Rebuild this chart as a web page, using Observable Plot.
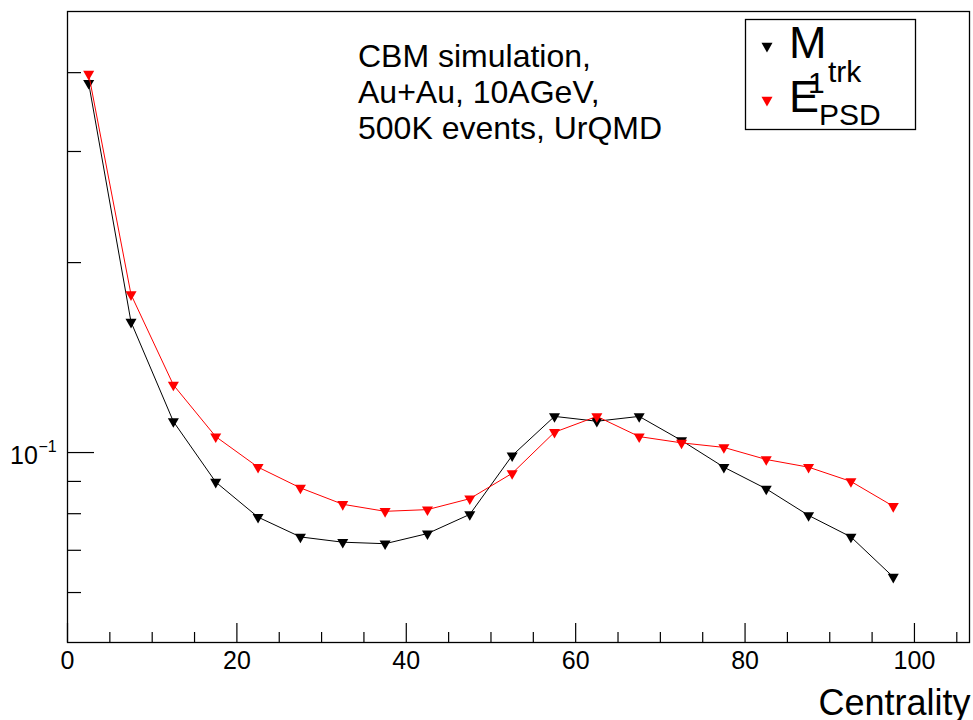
<!DOCTYPE html>
<html><head><meta charset="utf-8">
<script src="https://cdn.jsdelivr.net/npm/d3@7"></script>
<script src="https://cdn.jsdelivr.net/npm/@observablehq/plot@0.6"></script>
<style>
body{margin:0;background:#fff;}
#wrap{width:973px;height:720px;}
</style></head><body><div id="wrap"></div>
<script>
const centrality = [2.5,7.5,12.5,17.5,22.5,27.5,32.5,37.5,42.5,47.5,52.5,57.5,62.5,67.5,72.5,77.5,82.5,87.5,92.5,97.5];
const mTrk = [0.385,0.161,0.112,0.0898,0.0790,0.0735,0.0721,0.0717,0.0744,0.0798,0.0989,0.1141,0.1121,0.1141,0.1045,0.0948,0.0876,0.0795,0.0735,0.0635];
const ePsd = [0.398,0.178,0.128,0.106,0.0948,0.0879,0.0828,0.0807,0.0812,0.0845,0.0927,0.1077,0.1141,0.1060,0.1036,0.1019,0.0975,0.0948,0.0900,0.0822];
const xMajor = [0,20,40,60,80,100];
const xMinor = [5,10,15,25,30,35,45,50,55,65,70,75,85,90,95,105];
const yMajor = [0.1];
const yMinor = [0.06,0.07,0.08,0.09,0.2,0.3,0.4];
const seriesNames = ["M", "E"];
const seriesColors = ["#000000", "#ff0000"];
const noteLines = ["CBM simulation,", "Au+Au, 10AGeV,", "500K events, UrQMD"];

const rowsM = centrality.map((c, i) => ({c, v: mTrk[i]}));
const rowsE = centrality.map((c, i) => ({c, v: ePsd[i]}));

const W = 973, H = 720, mL = 67, mR = 4, mT = 11, mB = 78;
const fw = W - mL - mR, fh = H - mT - mB;
const font = "Liberation Sans, Arial, Helvetica, sans-serif";
const markR = 4.1;

const chart = Plot.plot({
  width: W, height: H,
  marginLeft: mL, marginRight: mR, marginTop: mT, marginBottom: mB,
  x: {domain: [0, 106.5], axis: null},
  y: {type: "log", domain: [0.05, 0.5], axis: null},
  style: {fontFamily: font, background: "white", color: "black", overflow: "visible"},
  marks: [
    Plot.ruleX(xMajor, {x: d => d, insetTop: fh - 19, stroke: "black", strokeWidth: 1.2}),
    Plot.ruleX(xMinor, {x: d => d, insetTop: fh - 10, stroke: "black", strokeWidth: 1.2}),
    Plot.ruleY(yMajor, {y: d => d, insetRight: fw - 27, stroke: "black", strokeWidth: 1.2}),
    Plot.ruleY(yMinor, {y: d => d, insetRight: fw - 14, stroke: "black", strokeWidth: 1.2}),
    Plot.text(xMajor, {x: d => d, text: d => String(d), frameAnchor: "bottom", lineAnchor: "top", dy: 9, fontSize: 25, fill: "black"}),
    Plot.text(["Centrality"], {text: d => d, frameAnchor: "bottom-right", textAnchor: "end", lineAnchor: "bottom", dy: 72, dx: 1, fontSize: 36, fill: "black"}),
    Plot.line(rowsM, {x: "c", y: "v", stroke: seriesColors[0], strokeWidth: 1}),
    Plot.dot(rowsM, {x: "c", y: "v", symbol: "triangle", r: markR, fill: seriesColors[0], stroke: "none", rotate: 180}),
    Plot.line(rowsE, {x: "c", y: "v", stroke: seriesColors[1], strokeWidth: 1}),
    Plot.dot(rowsE, {x: "c", y: "v", symbol: "triangle", r: markR, fill: seriesColors[1], stroke: "none", rotate: 180}),
    Plot.frame({stroke: "black", strokeWidth: 1.3})
  ]
});
document.getElementById("wrap").appendChild(chart);

const svg = d3.select(chart);
const addText = (sel, x, y, size, t) => sel.append("text").attr("x", x).attr("y", y)
  .attr("font-family", font).attr("font-size", size).attr("text-anchor", "start")
  .attr("fill", "black").text(t);

// y tick label 10^-1
addText(svg, 10, 464, 25, "10");
addText(svg, 38.5, 452, 16, "\u22121");

// annotation
noteLines.forEach((t, i) => addText(svg, 358, 67 + i * 36, 32, t));

// legend
const lg = svg.append("g");
lg.append("rect").attr("x", 745.5).attr("y", 19.5).attr("width", 170).attr("height", 110)
  .attr("fill", "white").attr("stroke", "black").attr("stroke-width", 1.3);
const sym = d3.symbol(d3.symbolTriangle, Math.PI * markR * markR)();
[46, 100].forEach((yy, i) => {
  lg.append("path").attr("d", sym).attr("fill", seriesColors[i])
    .attr("transform", `translate(767,${yy}) rotate(180)`);
});
addText(lg, 789, 58, 45, seriesNames[0]);
addText(lg, 828, 82, 30, "trk");
addText(lg, 789, 112, 45, seriesNames[1]);
addText(lg, 808, 93, 30, "1");
addText(lg, 819, 125, 30, "PSD");
</script></body></html>
